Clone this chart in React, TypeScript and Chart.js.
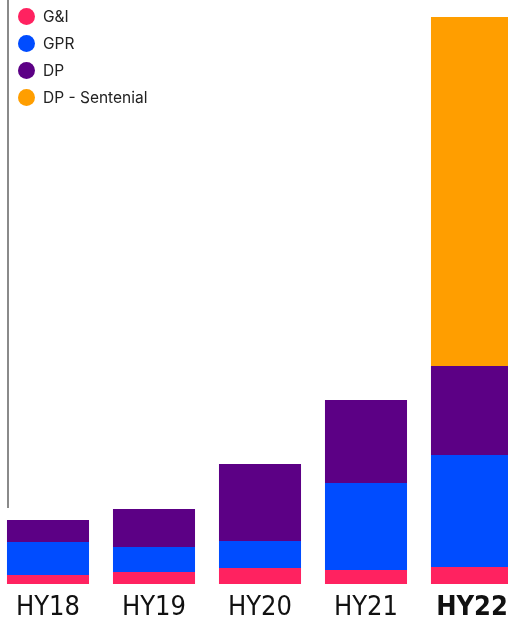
import React, { useEffect, useRef } from "react";
import { Chart, registerables } from "chart.js";

Chart.register(...registerables);

const categories = ["HY18", "HY19", "HY20", "HY21", "HY22"];
const giValues = [9, 12, 16, 14, 17];
const gprValues = [33, 25, 27, 87, 112];
const dpValues = [22, 38, 77, 83, 89];
const sentenialValues = [0, 0, 0, 0, 349];
const seriesNames = ["G&I", "GPR", "DP", "DP - Sentenial"];
const seriesColors = ["#FF2260", "#004CFF", "#5C0085", "#FF9E00"];
const yMax = 567;

export default function App() {
  const ref = useRef<HTMLCanvasElement | null>(null);

  useEffect(() => {
    if (!ref.current) return;
    const values = [giValues, gprValues, dpValues, sentenialValues];
    const chart = new Chart(ref.current, {
      type: "bar",
      data: {
        labels: categories,
        datasets: seriesNames.map((name, i) => ({
          label: name,
          data: values[i],
          backgroundColor: seriesColors[i],
          borderWidth: 0,
          barPercentage: 0.774,
          categoryPercentage: 1,
        })),
      },
      options: {
        responsive: false,
        animation: false,
        devicePixelRatio: 1,
        layout: { padding: { top: 17, left: 0, right: 0, bottom: 0 } },
        plugins: { legend: { display: false }, tooltip: { enabled: false } },
        scales: {
          x: {
            stacked: true,
            grid: { display: false, drawTicks: false },
            border: { display: false },
            afterFit: (scale: any) => {
              scale.height = 38;
            },
            ticks: {
              color: "#111",
              padding: 8,
              font: (ctx: any) => ({
                family: "'Liberation Sans Narrow', 'DejaVu Sans Condensed', sans-serif",
                size: 27,
                weight: ctx.index === categories.length - 1 ? "bold" : "normal",
              }),
            },
          },
          y: {
            stacked: true,
            display: false,
            min: 0,
            max: yMax,
          },
        },
      },
    });
    return () => chart.destroy();
  }, []);

  return (
    <div style={{ position: "fixed", left: 0, top: 0, width: 508, height: 622, overflow: "hidden", background: "#fff" }}>
      <div style={{ position: "absolute", left: 7, top: 0, width: 0, height: 508, borderLeft: "2px solid #8a8a8a" }} />
      <canvas ref={ref} width={530} height={622} style={{ position: "absolute", left: -5, top: 0, width: 530, height: 622 }} />
      <div style={{ position: "absolute", left: 18, top: 3, fontFamily: "Inter, 'Noto Sans', sans-serif", fontSize: 15.5, color: "#222" }}>
        {seriesNames.map((name, i) => (
          <div key={name} style={{ display: "flex", alignItems: "center", height: 27 }}>
            <span style={{ display: "inline-block", width: 17, height: 17, borderRadius: "50%", background: seriesColors[i], marginRight: 8 }} />
            <span>{name}</span>
          </div>
        ))}
      </div>
    </div>
  );
}
